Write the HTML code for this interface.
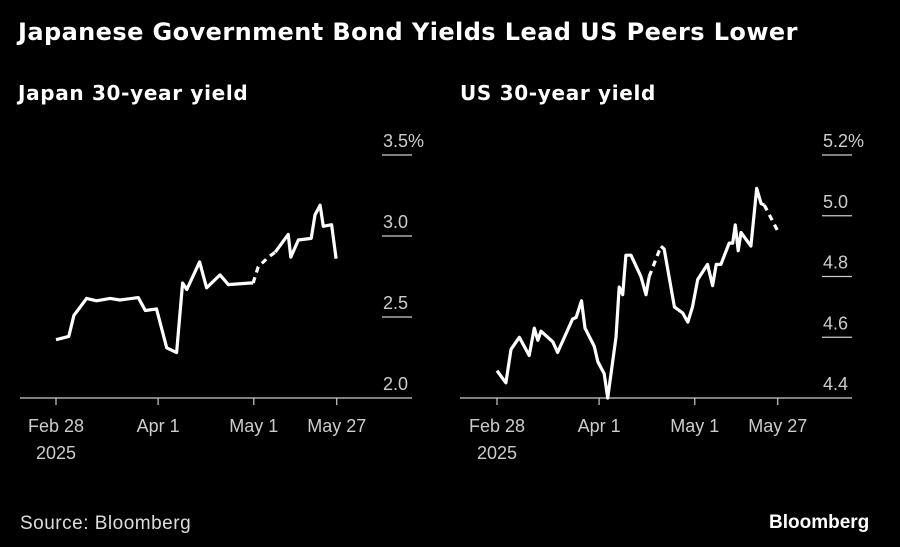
<!DOCTYPE html>
<html><head><meta charset="utf-8"><style>
html,body{margin:0;padding:0;background:#000;}
body{width:900px;height:547px;overflow:hidden;position:relative;font-family:"Liberation Sans",sans-serif;color:#fff;}
.t{position:absolute;white-space:nowrap;}
</style></head><body>
<div class="t" style="left:18px;top:18px;font-size:24px;font-weight:bold;font-family:'DejaVu Sans',sans-serif;letter-spacing:0.42px;">Japanese Government Bond Yields Lead US Peers Lower</div>
<div class="t" style="left:18px;top:81px;font-size:20px;font-weight:bold;font-family:'DejaVu Sans',sans-serif;letter-spacing:0.67px;">Japan 30-year yield</div>
<div class="t" style="left:460px;top:81px;font-size:20px;font-weight:bold;font-family:'DejaVu Sans',sans-serif;letter-spacing:0.67px;">US 30-year yield</div>
<div class="t" style="left:20px;top:513px;font-size:19px;color:#ddd;letter-spacing:0.5px;">Source: Bloomberg</div>
<div class="t" style="left:769px;top:512px;font-size:19px;font-weight:bold;">Bloomberg</div>
<svg id="svg" width="900" height="547" style="position:absolute;left:0;top:0"></svg>
<script>
const jpDays=[0,4,5.6,9.6,12.7,17,20,25.8,28,31.5,34.7,37.8,39.7,41,45,47.2,51.4,54,60.8,61.8,63.4,66.6,68.7,72.8,73.6,76,80,81.2,82.8,83.8,86.4,87.8];
const jpVals=[2.36,2.38,2.51,2.615,2.60,2.615,2.605,2.62,2.54,2.55,2.31,2.28,2.71,2.67,2.84,2.68,2.76,2.70,2.71,2.71,2.81,2.87,2.90,3.01,2.87,2.975,2.985,3.13,3.19,3.06,3.07,2.86];
const jpDash=[19,22];
const usDays=[0,2.8,4.4,7,10.1,11.7,12.8,13.8,17.5,19,23.7,24.8,26.5,27.6,30.5,31.6,33.6,34.7,37.3,38.3,39.4,40.4,42,45.1,46.7,47.7,51.4,52.4,55.6,58.2,59.8,61.3,62.9,66,67.6,68.7,70.2,72.8,73.9,74.7,75.6,76.5,79.6,81.4,82.8,83.8,88];
const usVals=[4.49,4.45,4.56,4.60,4.54,4.63,4.59,4.62,4.585,4.55,4.66,4.665,4.72,4.63,4.57,4.52,4.48,4.40,4.60,4.765,4.74,4.87,4.87,4.80,4.74,4.80,4.90,4.89,4.70,4.68,4.65,4.70,4.79,4.84,4.77,4.84,4.84,4.91,4.91,4.97,4.885,4.945,4.90,5.09,5.04,5.035,4.95];
const usDash=[[25,26],[45,46]];
const tickDays=[0,32,62,88];
const tickLabels=["Feb 28","Apr 1","May 1","May 27"];
const jpTicks=[2.0,2.5,3.0,3.5];
const jpTickLabels=["2.0","2.5","3.0","3.5%"];
const usTicks=[4.4,4.6,4.8,5.0,5.2];
const usTickLabels=["4.4","4.6","4.8","5.0","5.2%"];

const NS="http://www.w3.org/2000/svg";
const svg=document.getElementById('svg');
function mk(tag,attrs,parent){const e=document.createElementNS(NS,tag);for(const k in attrs)e.setAttribute(k,attrs[k]);(parent||svg).appendChild(e);return e;}

function panel(name,x0,x1,ppd,yMin,yMax,ticks,labels,days,vals,dashSegs,labelRight){
  const base=398, top=155;
  const xs=d=>x0+d*ppd;
  const ys=v=>base-(v-yMin)/(yMax-yMin)*(base-top);
  const g=mk('g',{});
  
  
  ticks.forEach((t,i)=>{
    const y=ys(t);
    if(i>0){const l=mk('line',{x1:labelRight-30,x2:labelRight,y1:y,y2:y,stroke:'#ccc','stroke-width':1.2},g);
      }
    const tx=mk('text',{x:labelRight-29,y:y-8,fill:'#ccc','font-size':18},g);
    tx.textContent=labels[i];
    
    
  });
  const ax=mk('line',{x1:x1-392,x2:labelRight,y1:base,y2:base,stroke:'#ccc','stroke-width':1.2},g);
  
  
  tickDays.forEach((d,i)=>{
    const x=xs(d);
    mk('line',{x1:x,x2:x,y1:base,y2:base+7,stroke:'#ccc','stroke-width':1.2},g);
    const tx=mk('text',{x:x,y:432,fill:'#ccc','font-size':18,'text-anchor':'middle'},g);
    tx.textContent=tickLabels[i];
    
    
  });
  const yr=mk('text',{x:xs(0),y:459,fill:'#ccc','font-size':18,'text-anchor':'middle'},g);
  yr.textContent='2025';
  
  
  const isDash=i=>dashSegs.some(s=>i>=s[0]&&i<s[1]);
  let seg=[0];let cur=isDash(0);
  const segs=[];
  for(let i=1;i<days.length;i++){
    const dsh=isDash(i-1);
    if(dsh!==cur){segs.push({pts:seg,dash:cur});seg=[i-1];cur=dsh;}
    seg.push(i);
  }
  segs.push({pts:seg,dash:cur});
  segs.forEach(s=>{
    const d=s.pts.map((i,k)=>(k?'L':'M')+xs(days[i]).toFixed(1)+','+ys(vals[i]).toFixed(1)).join(' ');
    const p=mk('path',{d:d,fill:'none',stroke:'#fff','stroke-width':3.2,'stroke-linejoin':'round','stroke-linecap':'butt'},g);
    if(s.dash)p.setAttribute('stroke-dasharray','6,5');
    
    
  });
}
function dashRanges(a){return Array.isArray(a[0])?a:[a];}
panel('japan',56,412,3.19,2.0,3.5,jpTicks,jpTickLabels,jpDays,jpVals,dashRanges(jpDash),412);
panel('us',497,852,3.19,4.4,5.2,usTicks,usTickLabels,usDays,usVals,dashRanges(usDash),852);
</script>
</body></html>
